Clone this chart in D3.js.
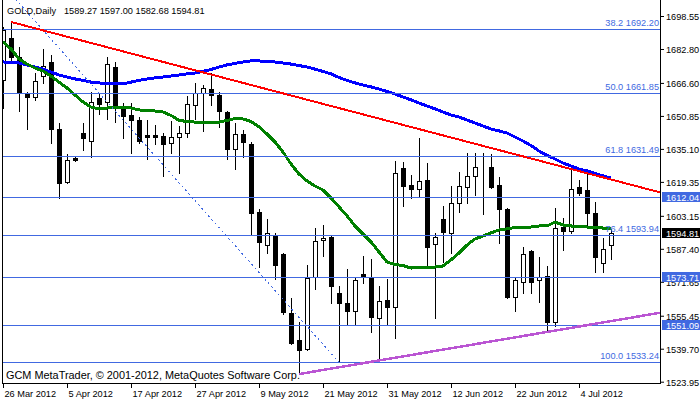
<!DOCTYPE html>
<html>
<head>
<meta charset="utf-8">
<script src="https://cdn.jsdelivr.net/npm/d3@7"></script>
<style>
body { margin: 0; background: #fff; }
svg { display: block; font-family: "Liberation Sans", Arial, sans-serif; }
</style>
</head>
<body>
<svg width="700" height="402"></svg>
<script>
// GOLD daily bars, 26 Mar 2012 .. 10 Jul 2012 (bar index 0..76)
const opens = [1668.0,1688.0,1679.0,1661.8,1659.9,1669.9,1676.6,1644.6,1619.3,1630.8,
	1642.7,1638.9,1659.4,1657.5,1674.2,1655.1,1651.3,1648.9,1641.7,1641.7,
	1641.3,1637.9,1640.8,1642.7,1656.1,1661.8,1663.7,1660.8,1652.7,1635.1,
	1642.2,1637.4,1605.0,1589.2,1593.5,1584.9,1556.8,1543.9,1539.6,1573.9,
	1591.6,1593.0,1566.3,1561.5,1557.7,1575.4,1573.5,1554.4,1563.0,1559.6,
	1626.0,1617.9,1616.0,1620.3,1589.7,1601.6,1595.0,1609.3,1616.9,1622.2,
	1627.9,1626.5,1617.9,1606.4,1564.4,1571.6,1586.4,1572.5,1574.4,1552.5,
	1597.8,1595.9,1616.9,1615.5,1604.5,1580.6,1589.27];
const highs = [1693.3,1695.7,1683.8,1662.3,1671.3,1682.8,1679.9,1647.5,1632.7,1631.2,
	1647.5,1662.3,1661.3,1679.0,1676.6,1657.0,1657.0,1650.3,1648.9,1646.5,
	1642.7,1648.4,1646.0,1660.4,1666.6,1665.6,1671.3,1662.3,1653.2,1647.5,
	1644.1,1638.4,1606.4,1601.6,1595.0,1585.4,1563.9,1552.5,1579.7,1597.3,
	1598.8,1593.5,1569.6,1577.8,1573.5,1584.0,1582.5,1569.6,1573.0,1629.3,
	1628.8,1622.6,1640.3,1628.4,1595.0,1607.8,1617.4,1624.1,1633.1,1633.1,
	1633.1,1632.7,1621.7,1606.9,1573.9,1588.3,1586.8,1583.5,1579.2,1606.9,
	1602.1,1625.5,1620.3,1624.1,1609.8,1592.6,1597.00];
const lows = [1654.6,1677.5,1653.2,1644.6,1658.5,1666.6,1637.9,1611.7,1618.8,1629.3,
	1634.6,1631.2,1651.8,1649.4,1647.9,1640.3,1633.1,1637.9,1630.3,1637.4,
	1622.2,1633.1,1623.6,1640.8,1649.4,1643.6,1656.1,1645.6,1630.3,1625.5,
	1631.2,1594.5,1578.7,1585.4,1573.0,1556.3,1542.0,1527.6,1539.1,1568.2,
	1584.0,1561.5,1533.2,1551.5,1551.5,1571.1,1547.7,1533.5,1551.5,1544.8,
	1607.8,1611.7,1612.6,1578.7,1554.4,1581.1,1585.4,1605.0,1609.3,1613.1,
	1604.0,1616.4,1590.2,1563.9,1557.7,1566.3,1566.3,1562.0,1547.7,1550.5,
	1586.8,1595.0,1613.1,1597.8,1576.3,1576.3,1582.68];
const closes = [1691.9,1679.0,1662.3,1659.9,1667.5,1674.7,1644.6,1618.8,1629.8,1629.8,
	1640.3,1657.5,1656.5,1675.6,1656.1,1650.8,1648.9,1638.9,1640.8,1640.8,
	1637.4,1640.8,1642.7,1656.5,1661.8,1664.2,1660.8,1653.2,1635.1,1642.2,
	1638.4,1604.5,1590.7,1595.0,1579.7,1557.2,1542.4,1539.1,1573.5,1591.1,
	1592.6,1569.6,1561.5,1557.7,1572.5,1573.9,1554.8,1562.5,1559.6,1623.6,
	1617.4,1616.0,1619.8,1588.3,1593.0,1595.4,1609.3,1617.4,1622.2,1626.5,
	1627.9,1616.9,1606.4,1564.4,1572.5,1584.9,1571.6,1573.9,1552.5,1597.3,
	1595.9,1616.0,1614.1,1604.5,1583.5,1587.3,1594.81];

// moving averages
const maFast = [1686.1,1682.8,1678.0,1675.6,1673.7,1672.3,1669.9,1667.0,1664.2,1660.8,
	1657.5,1655.1,1654.2,1654.6,1655.1,1655.1,1654.6,1653.7,1653.4,1653.2,
	1652.7,1651.1,1648.7,1648.2,1647.9,1647.7,1647.5,1647.9,1648.7,1649.6,
	1649.4,1648.2,1645.6,1642.2,1638.4,1633.6,1627.9,1623.1,1619.8,1617.4,
	1615.5,1611.7,1607.4,1603.1,1598.3,1594.5,1590.7,1585.9,1581.1,1579.9,
	1579.4,1578.2,1578.7,1578.7,1578.7,1579.2,1582.1,1585.4,1589.2,1592.1,
	1593.5,1595.0,1596.4,1596.9,1597.6,1597.8,1597.8,1598.3,1598.3,1600.2,
	1598.8,1598.3,1598.1,1597.8,1597.8,1597.3,1597.3];
const maSlow = [1676.6,1676.4,1676.1,1675.2,1674.2,1673.2,1671.8,1670.4,1669.4,1668.5,
	1667.8,1667.0,1666.6,1666.3,1666.1,1666.1,1667.0,1667.8,1668.5,1669.0,
	1669.4,1669.9,1670.4,1670.9,1671.3,1672.1,1673.0,1674.2,1675.2,1675.9,
	1676.6,1677.1,1677.1,1676.8,1676.6,1676.1,1675.6,1674.9,1674.2,1673.2,
	1672.1,1670.9,1669.2,1667.8,1666.6,1665.6,1664.7,1663.7,1662.5,1661.3,
	1659.9,1658.5,1657.0,1655.6,1654.2,1652.7,1651.3,1650.3,1648.9,1647.5,
	1646.0,1644.6,1643.7,1642.7,1640.8,1638.9,1636.7,1634.1,1632.0,1630.3,
	1628.4,1626.9,1625.5,1624.6,1623.4,1622.2,1621.2];

// axis ticks
const priceTicks = [1698.55,1682.80,1666.60,1650.85,1635.10,1619.35,1603.15,1587.40,1571.65,1555.45,1539.70,1523.95];
const dateBars = [0,8,16,24,32,40,48,56,64,72];
const dateLabels = ['26 Mar 2012','5 Apr 2012','17 Apr 2012','27 Apr 2012','9 May 2012',
	'21 May 2012','31 May 2012','12 Jun 2012','22 Jun 2012','4 Jul 2012'];

// objects on the chart
const fibLevels = ['38.2','50.0','61.8','76.4','100.0'];
const fibPrices = [1692.20,1661.85,1631.49,1593.94,1533.24];
const fibTrend = [[-18, 1790.4], [42, 1533.24]];
const hLines = [1612.04,1573.71,1551.09];
const redTrend = [[1, 1695.7], [71, 1625.5]];
const purpleTrend = [[37, 1527.6], [68, 1547.7]];
const lastPrice = 1594.81;
const header = 'GOLD,Daily';
const headerValues = '1589.27 1597.00 1582.68 1594.81';
const copyright = 'GCM MetaTrader, \u00a9 2001-2012, MetaQuotes Software Corp.';

const svg = d3.select('svg');
const left = 2, right = 660, bottom = 383;
const fibBlue = '#4169e1';

const x = d3.scaleLinear().domain([0, 76]).range([3, 611]);
const y = d3.scaleLinear().domain([1523.95, 1698.55]).range([381.7, 16]);

svg.append('clipPath').attr('id', 'plot')
	.append('rect').attr('x', left + 1).attr('y', 0).attr('width', right - left - 1).attr('height', bottom);

const plot = svg.append('g').attr('clip-path', 'url(#plot)');

// candles
const bars = d3.range(opens.length);
const candle = plot.append('g').attr('class', 'candles').selectAll('g')
	.data(bars)
	.enter().append('g');

candle.append('line')
	.attr('x1', i => Math.round(x(i)) + 0.5)
	.attr('x2', i => Math.round(x(i)) + 0.5)
	.attr('y1', i => Math.round(y(highs[i])))
	.attr('y2', i => Math.round(y(lows[i])) + 1)
	.attr('stroke', '#000')
	.attr('shape-rendering', 'crispEdges');

candle.append('rect')
	.attr('x', i => Math.round(x(i)) - 2 + 0.5)
	.attr('y', i => Math.round(y(Math.max(opens[i], closes[i]))) + 0.5)
	.attr('width', 4)
	.attr('height', i => Math.round(y(Math.min(opens[i], closes[i]))) - Math.round(y(Math.max(opens[i], closes[i]))))
	.attr('fill', i => closes[i] > opens[i] ? '#fff' : '#000')
	.attr('stroke', '#000')
	.attr('shape-rendering', 'crispEdges');

// moving averages
const maLine = d3.line().x((d, i) => x(i)).y(d => y(d));
plot.append('path').datum(maSlow)
	.attr('d', maLine).attr('fill', 'none').attr('stroke', '#0000ff').attr('stroke-width', 3)
	.attr('shape-rendering', 'crispEdges');
plot.append('path').datum(maFast)
	.attr('d', maLine).attr('fill', 'none').attr('stroke', '#008000').attr('stroke-width', 3)
	.attr('shape-rendering', 'crispEdges');

// horizontal lines
plot.append('g').selectAll('line')
	.data(fibPrices.concat(hLines))
	.enter().append('line')
		.attr('x1', left).attr('x2', right)
		.attr('y1', d => Math.round(y(d)) + 0.5)
		.attr('y2', d => Math.round(y(d)) + 0.5)
		.attr('stroke', fibBlue)
		.attr('shape-rendering', 'crispEdges');

plot.append('g').selectAll('text')
	.data(fibPrices)
	.enter().append('text')
		.attr('x', right - 1)
		.attr('y', d => Math.round(y(d)) - 3)
		.attr('text-anchor', 'end')
		.attr('font-size', 9.2)
		.attr('fill', fibBlue)
		.text((d, i) => fibLevels[i] + ' ' + d.toFixed(2));

// trend lines, the solid ones run on to the right edge
function ray(pts) {
	const [p0, p1] = pts;
	const b = x.invert(right + 2);
	const slope = (p1[1] - p0[1]) / (p1[0] - p0[0]);
	return [p0, [b, p0[1] + slope * (b - p0[0])]];
}
const segLine = d3.line().x(d => x(d[0])).y(d => y(d[1]));

plot.append('path').datum(fibTrend)
	.attr('d', segLine).attr('fill', 'none').attr('stroke', fibBlue)
	.attr('stroke-dasharray', '2,3').attr('shape-rendering', 'crispEdges');
plot.append('path').datum(ray(redTrend))
	.attr('d', segLine).attr('fill', 'none').attr('stroke', '#ff0000').attr('stroke-width', 2)
	.attr('shape-rendering', 'crispEdges');
plot.append('path').datum(ray(purpleTrend))
	.attr('d', segLine).attr('fill', 'none').attr('stroke', '#ba55d3').attr('stroke-width', 2.5)
	.attr('shape-rendering', 'crispEdges');

// price axis
const yAxis = svg.append('g')
	.attr('transform', `translate(${right},0)`)
	.call(d3.axisRight(y).tickValues(priceTicks).tickSize(4).tickPadding(2).tickFormat(d => d.toFixed(2)));
yAxis.select('.domain').remove();
yAxis.selectAll('text').attr('font-size', 9.2).attr('font-family', '"Liberation Sans", Arial, sans-serif')
	.attr('dy', '0.42em').attr('fill', '#000');
yAxis.selectAll('line').attr('stroke', '#000');

// date axis
const xAxis = svg.append('g')
	.attr('transform', `translate(0,${bottom})`)
	.call(d3.axisBottom(x).tickValues(dateBars).tickSize(5).tickPadding(2).tickFormat((d, i) => dateLabels[i]));
xAxis.select('.domain').remove();
xAxis.selectAll('text').attr('font-size', 9.2).attr('font-family', '"Liberation Sans", Arial, sans-serif')
	.attr('text-anchor', 'start').attr('x', 1).attr('fill', '#000');
xAxis.selectAll('line').attr('stroke', '#000');

// price labels on the axis
function axisLabel(v, bg) {
	const yy = Math.round(y(v));
	svg.append('rect').attr('x', right + 2).attr('y', yy - 5).attr('width', 700 - right - 2).attr('height', 10)
		.attr('fill', bg);
	svg.append('text').attr('x', right + 6).attr('y', yy + 4).attr('font-size', 9.2)
		.attr('fill', '#fff').text(v.toFixed(2));
}
hLines.forEach(v => axisLabel(v, fibBlue));
axisLabel(lastPrice, '#000');

// frame
const frame = svg.append('g').attr('stroke', '#000').attr('shape-rendering', 'crispEdges');
frame.append('line').attr('x1', left + 0.5).attr('x2', left + 0.5).attr('y1', 0).attr('y2', bottom + 1);
frame.append('line').attr('x1', right + 0.5).attr('x2', right + 0.5).attr('y1', 0).attr('y2', bottom + 1);
frame.append('line').attr('x1', left).attr('x2', right + 1).attr('y1', bottom + 0.5).attr('y2', bottom + 0.5);

// texts
svg.append('text').attr('x', 7).attr('y', 14).attr('font-size', 9.2).text(header);
svg.append('text').attr('x', 64).attr('y', 14).attr('font-size', 9.2).text(headerValues);
svg.append('text').attr('x', 6).attr('y', 379).attr('font-size', 10.9).text(copyright);
</script>
</body>
</html>
